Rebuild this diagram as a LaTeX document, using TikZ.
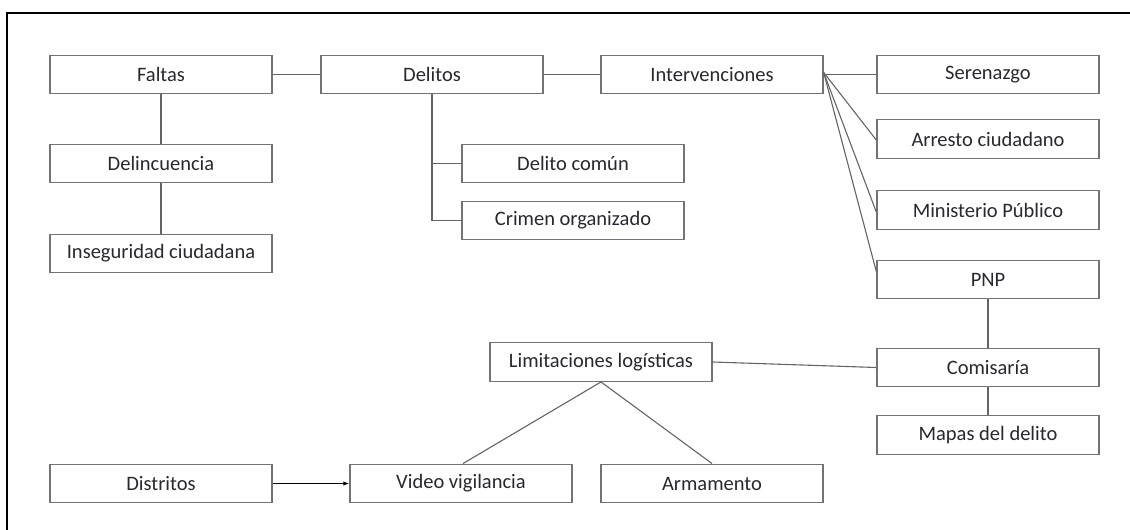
\documentclass[tikz,border=0pt]{standalone}
\usepackage{fontspec}
\setmainfont{Carlito}
\usetikzlibrary{arrows.meta}
\definecolor{boxline}{RGB}{115,115,115}
\definecolor{linkline}{RGB}{100,100,100}
\definecolor{labeltext}{RGB}{40,40,48}
\begin{document}
\begin{tikzpicture}[x=1pt,y=-1pt,
  box/.style={draw=boxline,line width=1.4pt,fill=white,minimum width=222pt,minimum height=38.5pt,
              inner sep=0pt,text=labeltext,font=\fontsize{20.5}{24}\selectfont},
  link/.style={draw=linkline,line width=1.1pt}]
\useasboundingbox (0,0) rectangle (1130,530);
% outer frame (top and left edges)
\draw[line width=2.6pt,black] (7,530) -- (7,13) -- (1130,13);

% left column
\node[box] (faltas) at (161,74.5) {Faltas};
\node[box] (delinc) at (161,163.5) {Delincuencia};
\node[box] (insegur) at (161,253.5) {Inseguridad ciudadana};

% middle branch
\node[box] (delitos) at (432,74.5) {Delitos};
\node[box] (comun) at (573,163.5) {Delito común};
\node[box] (crimen) at (573,220.5) {Crimen organizado};

% interventions
\node[box] (interv) at (712,74.5) {Intervenciones};
\node[box] (seren) at (988,74.5) {Serenazgo};
\node[box] (arresto) at (988,139) {Arresto ciudadano};
\node[box] (minist) at (988,210) {Ministerio Público};
\node[box] (pnp) at (988,279.5) {PNP};
\node[box] (comis) at (988,367.5) {Comisaría};
\node[box] (mapas) at (988,435) {Mapas del delito};

% logistics
\node[box] (limit) at (601,362) {Limitaciones logísticas};
\node[box] (distr) at (161,483.5) {Distritos};
\node[box] (video) at (461,483.5) {Video vigilancia};
\node[box] (armam) at (712,483.5) {Armamento};

% connectors
\draw[link] (faltas) -- (delitos);
\draw[link] (delitos) -- (interv);
\draw[link] (faltas) -- (delinc);
\draw[link] (delinc) -- (insegur);
\draw[link] (delitos.south) -- (delitos.south |- crimen.west) -- (crimen.west);
\draw[link] (delitos.south |- comun.west) -- (comun.west);

\coordinate (fan) at ([yshift=2pt]interv.east);
\draw[link] (interv.east) -- (seren.west);
\draw[link] (fan) -- ([yshift=-1pt]arresto.west);
\draw[link] (fan) -- ([yshift=-2pt]minist.west);
\draw[link] (fan) -- ([yshift=8pt]pnp.west);

\draw[link] (pnp) -- (comis);
\draw[link] (comis) -- (mapas);
\draw[link] (limit.east) -- (comis.west);
\draw[link] (limit.south) -- ([xshift=2pt]video.north);
\draw[link] (limit.south) -- (armam.north);
\draw[line width=1.1pt,black,-{Latex[length=6pt,width=4.5pt]}] (distr.east) -- (video.west);
\end{tikzpicture}
\end{document}
